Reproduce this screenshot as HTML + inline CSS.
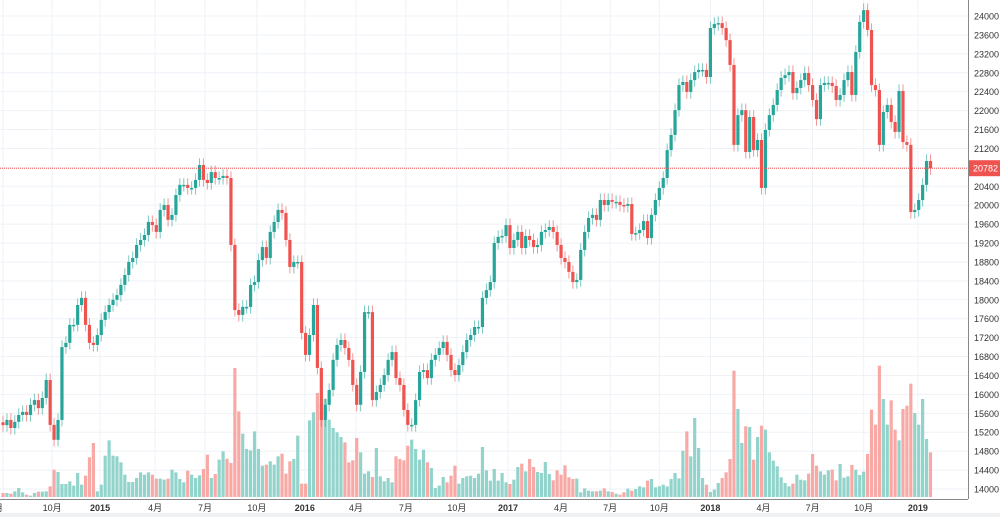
<!DOCTYPE html>
<html><head><meta charset="utf-8"><style>
html,body{margin:0;padding:0;background:#fff;width:1000px;height:517px;overflow:hidden}
svg{display:block;font-family:"Liberation Sans","Noto Sans CJK SC",sans-serif}
</style></head><body>
<svg id="chart" width="1000" height="517" viewBox="0 0 1000 517" xmlns="http://www.w3.org/2000/svg">
<g id="grid"></g>
<g id="vols"></g>
<g id="candles"></g>
<g id="axes"></g>
</svg>
<script>
const closes=[15350,15460,15290,15420,15565,15630,15565,15780,15880,15710,15925,16305,15355,15040,15460,17000,17090,17470,17470,17890,18040,17470,17090,17045,17255,17575,17740,17890,18000,18100,18315,18525,18800,18885,19160,19265,19370,19645,19580,19435,19900,20005,19690,19795,20215,20430,20430,20365,20365,20535,20850,20535,20470,20700,20575,20575,20620,20575,19160,17785,17680,17850,17850,18315,18375,18840,19115,18885,19435,19645,19900,19835,19265,18695,18800,18800,17300,16835,17255,17890,16560,15460,15780,16095,16730,17045,17150,16980,16730,16200,15780,16475,17740,17740,15880,16050,16200,16410,16730,16895,16345,16200,15670,15355,15355,15880,16475,16515,16345,16730,16835,16980,17110,16835,16515,16410,16620,16895,17150,17255,17425,17425,18040,18205,18375,19200,19330,19350,19580,19095,19265,19435,19095,19350,19265,19115,19160,19435,19475,19540,19435,19160,18885,18800,18590,18375,18420,19055,19435,19730,19795,19690,20110,20005,20110,20070,20070,20005,19985,20025,19390,19410,19475,19665,19305,19795,20110,20365,20575,21165,21485,22010,22540,22605,22395,22645,22815,22860,22860,22710,23745,23830,23850,23745,23490,22965,21275,21905,22010,21125,21865,21165,21380,20365,21590,21905,22120,22435,22690,22750,22815,22370,22480,22645,22795,22540,22225,21820,22540,22585,22585,22520,22225,22330,22645,22815,22330,23240,23875,24125,23705,22540,22435,21275,21970,22120,21760,21550,22415,21335,21275,19855,19900,20110,20430,20935,20782];
const volumes=[12,12,10,17,27,14,7,4,12,16,16,17,32,82,75,39,39,47,34,72,37,64,119,162,17,37,124,170,124,122,104,67,45,45,57,74,67,74,67,55,55,52,55,82,74,54,44,79,67,57,65,84,127,57,69,112,137,115,102,387,257,190,144,140,197,144,94,97,107,97,122,130,70,107,114,184,40,40,230,254,312,277,294,232,207,194,180,164,104,110,177,134,70,77,60,147,62,47,57,44,122,114,110,154,172,144,112,142,104,87,27,34,60,44,64,94,40,57,62,64,
57,70,150,80,49,84,49,72,44,39,52,90,100,77,114,90,75,72,105,69,50,80,67,95,59,54,55,14,26,19,17,17,19,26,17,15,10,7,14,25,19,24,32,29,49,54,29,32,37,32,54,72,56,139,197,122,237,147,57,37,15,22,42,57,74,114,379,264,162,212,210,112,180,214,202,134,109,92,59,42,32,40,67,52,50,70,129,94,77,67,80,82,50,99,58,62,96,82,66,76,129,262,217,394,294,217,290,202,170,264,274,340,252,217,294,174,134];
const priceTicks=[14000,14400,14800,15200,15600,16000,16400,16800,17200,17600,18000,18400,18800,19200,19600,20000,20400,20800,21200,21600,22000,22400,22800,23200,23600,24000];
const timeLabels=["月","10月","2015","4月","7月","10月","2016","4月","7月","10月","2017","4月","7月","10月","2018","4月","7月","10月","2019"];
const timeIdx=[0,12.5,24.7,38.7,51.4,64.6,76.8,89.8,102.5,115.5,128.5,142,154.5,167,180,193.5,206,219,232.8];
const lastPrice=20782;

const NS="http://www.w3.org/2000/svg";
const X=i=>3+3.93*i;
const Y=p=>16+(24000-p)*0.0473;
const VB=497, VS=1/3;
function mk(tag,attrs,parent){const e=document.createElementNS(NS,tag);for(const k in attrs)e.setAttribute(k,attrs[k]);parent.appendChild(e);return e;}
const grid=document.getElementById('grid'),vols=document.getElementById('vols'),cg=document.getElementById('candles'),ax=document.getElementById('axes');

priceTicks.forEach(p=>{
  const l=mk('line',{x1:0,x2:968,y1:Y(p),y2:Y(p),stroke:'#eef2f7','stroke-width':1},grid);
  
  
  const t=mk('text',{x:974,y:Y(p)+3.5,'font-size':9,fill:'#333'},ax);
  t.textContent=p;
  
  
});
timeLabels.forEach((s,k)=>{
  const x=X(timeIdx[k]);
  const l=mk('line',{x1:x,x2:x,y1:0,y2:499,stroke:'#eef2f7','stroke-width':1},grid);
  
  
  const bold=/^\d{4}$/.test(s);
  const t=mk('text',{x:x,y:511,'font-size':9,fill:'#333','text-anchor':k===0?'end':'middle','font-weight':bold?'bold':'normal'},ax);
  t.textContent=s;
  
  
});

for(let i=0;i<closes.length;i++){
  const c=closes[i], o=i>0?closes[i-1]:c+60;
  const up=c>=o, col=up?'#26a69a':'#ef5350';
  const x=X(i);
  const hi=Math.max(o,c)+140, lo=Math.min(o,c)-140;
  if(i<volumes.length){
    const h=volumes[i]*VS;
    const vb=mk('rect',{x:x-1.6,y:VB-h,width:3.2,height:h,fill:up?'#92d4cb':'#f8a9a6'},vols);
    
    
  }
  const w=mk('line',{x1:x,x2:x,y1:Y(hi),y2:Y(lo),stroke:col,'stroke-width':1,opacity:0.6},cg);
  
  
  const yt=Y(Math.max(o,c)), yb=Y(Math.min(o,c));
  const b=mk('rect',{x:x-1.6,y:yt,width:3.2,height:Math.max(1.5,yb-yt),fill:col},cg);
  
  
}
const ly=Y(lastPrice);
const pl=mk('line',{x1:0,x2:968,y1:ly,y2:ly,stroke:'#ef5350','stroke-width':1,'stroke-dasharray':'1 1'},ax);


const al=mk('line',{x1:968.5,x2:968.5,y1:0,y2:499,stroke:'#888','stroke-width':1},ax);


const bl=mk('line',{x1:0,x2:968,y1:499.5,y2:499.5,stroke:'#888','stroke-width':1},ax);


const bg=mk('rect',{x:0,y:513,width:1000,height:4,fill:'#f0f1f3'},ax);


const lb=mk('rect',{x:969,y:ly-8,width:31,height:16,fill:'#ef5350'},ax);


const lt=mk('text',{x:973,y:ly+3.5,'font-size':9,fill:'#fff'},ax);
lt.textContent=lastPrice;


</script>
</body></html>
